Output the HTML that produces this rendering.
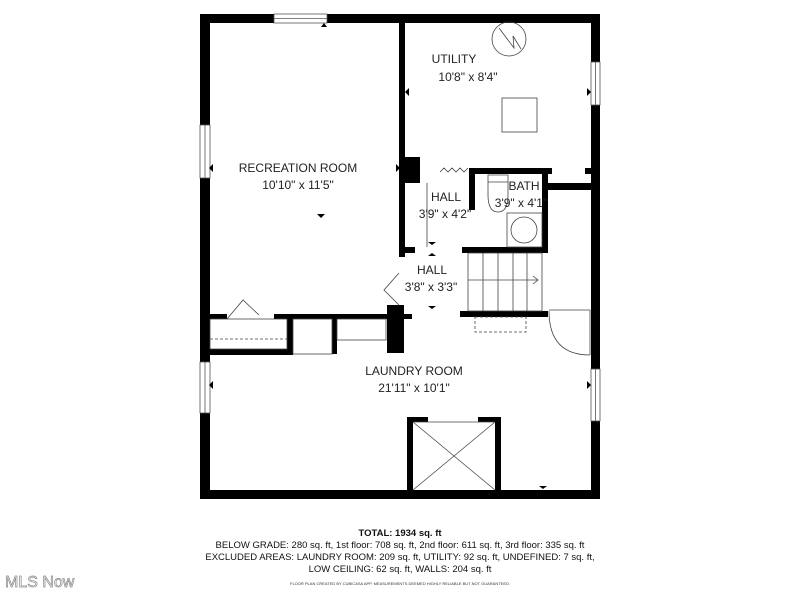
<!DOCTYPE html>
<html><head><style>
body{margin:0;background:#fff;width:800px;height:600px;overflow:hidden;font-family:"Liberation Sans",sans-serif}
svg{position:absolute;left:0;top:0}
.t{font-family:"Liberation Sans",sans-serif;font-size:12px;fill:#222;text-anchor:middle}
.f{font-family:"Liberation Sans",sans-serif;font-size:9.5px;fill:#111;text-anchor:middle}
</style></head><body>
<svg width="800" height="600" viewBox="0 0 800 600">
<g fill="#000">
<rect x="200" y="14" width="400" height="9"/>
<rect x="200" y="14" width="10" height="485"/>
<rect x="591" y="14" width="9" height="485"/>
<rect x="200" y="490" width="400" height="9"/>
<rect x="399" y="23" width="6" height="234"/>
<rect x="405" y="157" width="15" height="26"/>
<rect x="399" y="247" width="16" height="6"/>
<rect x="469" y="168" width="83" height="6"/>
<rect x="469" y="168" width="6" height="42"/>
<rect x="542" y="168" width="6" height="84"/>
<rect x="547" y="183" width="44" height="7"/>
<rect x="585" y="168" width="6" height="6"/>
<rect x="462" y="247" width="86" height="6"/>
<rect x="399" y="240" width="6" height="17"/>
<rect x="200" y="314" width="27" height="5"/>
<rect x="274" y="314" width="138" height="5"/>
<rect x="287" y="314" width="6" height="41"/>
<rect x="200" y="349" width="93" height="6"/>
<rect x="332" y="314" width="5" height="40"/>
<rect x="387" y="305" width="17" height="48"/>
<rect x="460" y="311" width="88" height="6"/>
<rect x="407" y="417" width="6" height="73"/>
<rect x="495" y="417" width="6" height="73"/>
<rect x="407" y="417" width="21" height="5"/>
<rect x="478" y="417" width="23" height="5"/>
</g>
<g fill="#fff" stroke="#555" stroke-width="0.8">
<rect x="274" y="14" width="53" height="9"/><line x1="274" y1="18.5" x2="327" y2="18.5"/>
<rect x="200" y="125" width="10" height="53"/><line x1="205" y1="125" x2="205" y2="178"/>
<rect x="591" y="62" width="9" height="43"/><line x1="595.5" y1="62" x2="595.5" y2="105"/>
<rect x="200" y="362" width="10" height="51"/><line x1="205" y1="362" x2="205" y2="413"/>
<rect x="591" y="369" width="9" height="52"/><line x1="595.5" y1="369" x2="595.5" y2="421"/>
</g>
<g fill="none" stroke="#444" stroke-width="0.8">
<circle cx="509" cy="39" r="17"/>
<polyline points="499,28 514,48 513,36 521,49"/>
<rect x="502" y="98" width="35" height="34"/>
<polyline points="440,172 444,168 448,172 452,168 456,172 460,168 464,172 468,168"/>
<path d="M488,175 h20 v20 q0,17 -10,17 q-10,0 -10,-17 z"/>
<line x1="488" y1="182" x2="508" y2="182"/>
<rect x="507" y="213" width="35" height="34"/>
<circle cx="524" cy="230" r="13"/>
<line x1="427" y1="183" x2="427" y2="247"/>
<rect x="468" y="253" width="74" height="58"/>
<line x1="483" y1="253" x2="483" y2="311"/><line x1="498" y1="253" x2="498" y2="311"/>
<line x1="513" y1="253" x2="513" y2="311"/><line x1="527" y1="253" x2="527" y2="311"/>
<line x1="468" y1="280" x2="538" y2="280"/><polyline points="533,276 538,280 533,284"/>
<rect x="475" y="317" width="51" height="15" stroke-dasharray="3,2"/>
<line x1="549" y1="310" x2="590" y2="310"/>
<line x1="590" y1="310" x2="590" y2="355"/>
<path d="M549,311 q0,44 41,44"/>
<polyline points="399,273 384,290 399,305"/>
<polyline points="227,319 243,300 259,315"/>
<rect x="210" y="319" width="77" height="30"/>
<line x1="210" y1="339" x2="287" y2="339" stroke-dasharray="3,2"/>
<rect x="293" y="319" width="39" height="35"/>
<rect x="337" y="319" width="49" height="21"/>
<line x1="413" y1="422" x2="495" y2="490"/>
<line x1="495" y1="422" x2="413" y2="490"/>
<line x1="413" y1="422" x2="495" y2="422"/>
</g>
<g fill="#000">
<path d="M324,23 l3,4 h-6z"/><path d="M209,168 l4,-4 v8z"/><path d="M400,168 l-4,-4 v8z"/>
<path d="M321,218 l4,-4 h-8z"/><path d="M405,92 l4,-4 v8z"/><path d="M591,92 l-4,-4 v8z"/>
<path d="M432,245 l4,-3 h-8z"/><path d="M432,253 l4,3 h-8z"/><path d="M432,309 l4,-3 h-8z"/>
<path d="M209,385 l4,-4 v8z"/><path d="M591,385 l-4,-4 v8z"/><path d="M543,489 l4,-3 h-8z"/>
</g>
<text class="t" x="454" y="63">UTILITY</text>
<text class="t" x="468" y="81">10'8" x 8'4"</text>
<text class="t" x="298" y="172">RECREATION ROOM</text>
<text class="t" x="298" y="189">10'10" x 11'5"</text>
<text class="t" x="446" y="201">HALL</text>
<text class="t" x="445" y="218">3'9" x 4'2"</text>
<text class="t" x="524" y="190">BATH</text>
<text class="t" x="521" y="207">3'9" x 4'1"</text>
<text class="t" x="432" y="274">HALL</text>
<text class="t" x="431" y="291">3'8" x 3'3"</text>
<text class="t" x="414" y="375">LAUNDRY ROOM</text>
<text class="t" x="414" y="392">21'11" x 10'1"</text>
<text class="f" x="400" y="536" style="font-weight:bold">TOTAL: 1934 sq. ft</text>
<text class="f" x="400" y="548">BELOW GRADE: 280 sq. ft, 1st floor: 708 sq. ft, 2nd floor: 611 sq. ft, 3rd floor: 335 sq. ft</text>
<text class="f" x="400" y="560">EXCLUDED AREAS: LAUNDRY ROOM: 209 sq. ft, UTILITY: 92 sq. ft, UNDEFINED: 7 sq. ft,</text>
<text class="f" x="400" y="572">LOW CEILING: 62 sq. ft, WALLS: 204 sq. ft</text>
<text x="400" y="585" style="font-family:'Liberation Sans',sans-serif;font-size:4px;fill:#333;text-anchor:middle">FLOOR PLAN CREATED BY CUBICASA APP. MEASUREMENTS DEEMED HIGHLY RELIABLE BUT NOT GUARANTEED.</text>
<text x="5" y="587" style="font-family:'Liberation Sans',sans-serif;font-size:16px;fill:#fff;stroke:#888;stroke-width:0.7">MLS Now</text>
</svg>
</body></html>
